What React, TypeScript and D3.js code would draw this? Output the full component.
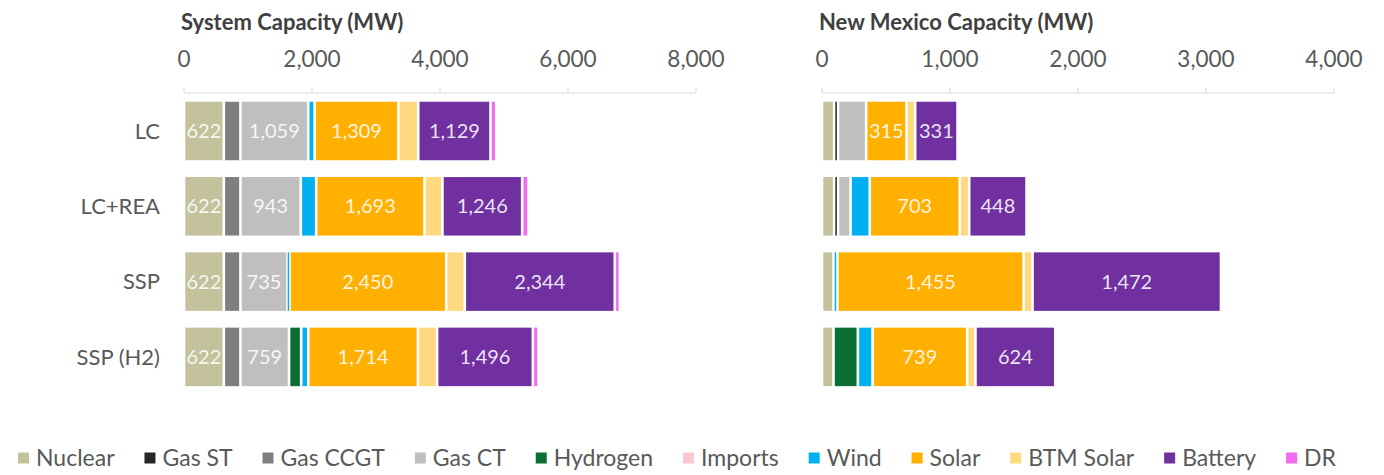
import React, { useEffect, useRef } from "react";
import * as d3 from "d3";

const categories = ["LC", "LC+REA", "SSP", "SSP (H2)"];
const seriesNames = ["Nuclear", "Gas ST", "Gas CCGT", "Gas CT", "Hydrogen", "Imports", "Wind", "Solar", "BTM Solar", "Battery", "DR"];
const seriesColors = ["#c4c29d", "#262626", "#7f7f7f", "#bfbfbf", "#0b6e35", "#ffc6d0", "#00b0f0", "#ffb000", "#ffd980", "#7030a0", "#f06cf0"];

// System capacity (MW), one value per scenario (category order)
const sysNuclear = [622, 622, 622, 622];
const sysGasST = [0, 0, 0, 0];
const sysGasCCGT = [260, 260, 260, 260];
const sysGasCT = [1059, 943, 735, 759];
const sysHydrogen = [0, 0, 0, 190];
const sysImports = [0, 0, 0, 0];
const sysWind = [100, 240, 30, 110];
const sysSolar = [1309, 1693, 2450, 1714];
const sysBTMSolar = [310, 280, 290, 300];
const sysBattery = [1129, 1246, 2344, 1496];
const sysDR = [90, 100, 80, 90];

// New Mexico capacity (MW)
const nmNuclear = [95, 95, 90, 90];
const nmGasST = [30, 30, 0, 0];
const nmGasCCGT = [0, 0, 0, 0];
const nmGasCT = [220, 98, 0, 0];
const nmHydrogen = [0, 0, 0, 190];
const nmImports = [0, 0, 0, 0];
const nmWind = [0, 150, 30, 115];
const nmSolar = [315, 703, 1455, 739];
const nmBTMSolar = [68, 74, 70, 65];
const nmBattery = [331, 448, 1472, 624];
const nmDR = [0, 0, 0, 0];

const sysTicks = [0, 2000, 4000, 6000, 8000];
const nmTicks = [0, 1000, 2000, 3000, 4000];

const sysLabelled = ["Nuclear", "Gas CT", "Solar", "Battery"];
const nmLabelled = ["Solar", "Battery"];

const sysSeries = [sysNuclear, sysGasST, sysGasCCGT, sysGasCT, sysHydrogen, sysImports, sysWind, sysSolar, sysBTMSolar, sysBattery, sysDR];
const nmSeries = [nmNuclear, nmGasST, nmGasCCGT, nmGasCT, nmHydrogen, nmImports, nmWind, nmSolar, nmBTMSolar, nmBattery, nmDR];

const FONT = "Lato, 'Open Sans', sans-serif";
const W = 1384;
const H = 475;

function buildRows(series: number[][]) {
  return categories.map((c, i) => {
    const row: any = { category: c };
    seriesNames.forEach((s, j) => (row[s] = series[j][i]));
    return row;
  });
}

export default function App() {
  const ref = useRef<SVGSVGElement | null>(null);

  useEffect(() => {
    document.body.style.margin = "0";
    const svg = d3.select(ref.current);
    svg.selectAll("*").remove();

    const y = d3.scaleBand<string>().domain(categories).range([94.2, 393.7]).paddingInner(0.223).paddingOuter(0.1);

    const color = d3.scaleOrdinal<string, string>().domain(seriesNames).range(seriesColors);
    const fmt = d3.format(",");

    const charts = [
      { title: "System Capacity (MW)", series: sysSeries, ticks: sysTicks, domain: [0, 8000], range: [184, 696], labelled: sysLabelled, cats: true },
      { title: "New Mexico Capacity (MW)", series: nmSeries, ticks: nmTicks, domain: [0, 4000], range: [822, 1334], labelled: nmLabelled, cats: false },
    ];

    charts.forEach((ch) => {
      const x = d3.scaleLinear().domain(ch.domain).range(ch.range);
      const g = svg.append("g");

      g.append("text")
        .attr("x", ch.range[0] - 3)
        .attr("y", 30)
        .attr("font-family", FONT)
        .attr("font-weight", 700)
        .attr("font-size", 22)
        .attr("fill", "#404040")
        .text(ch.title);

      // top axis
      const axisY = 93;
      g.append("line")
        .attr("x1", x(ch.domain[0]))
        .attr("x2", x(ch.domain[1]))
        .attr("y1", axisY)
        .attr("y2", axisY)
        .attr("stroke", "#d9d9d9")
        .attr("stroke-width", 1);
      g.selectAll(".tick")
        .data(ch.ticks)
        .join("line")
        .attr("x1", (d) => x(d))
        .attr("x2", (d) => x(d))
        .attr("y1", axisY - 5)
        .attr("y2", axisY)
        .attr("stroke", "#d9d9d9");
      g.selectAll(".ticklabel")
        .data(ch.ticks)
        .join("text")
        .attr("x", (d) => x(d))
        .attr("y", 67)
        .attr("text-anchor", "middle")
        .attr("font-family", FONT)
        .attr("font-size", 22.5)
        .attr("fill", "#595959")
        .text((d) => fmt(d));

      if (ch.cats) {
        g.selectAll(".cat")
          .data(categories)
          .join("text")
          .attr("x", 160)
          .attr("y", (d) => (y(d) as number) + y.bandwidth() / 2)
          .attr("dy", "0.35em")
          .attr("text-anchor", "end")
          .attr("font-family", FONT)
          .attr("font-size", 22)
          .attr("fill", "#595959")
          .text((d) => d);
      }

      const rows = buildRows(ch.series);
      const stacked = d3.stack<any>().keys(seriesNames)(rows);

      const layers = g.selectAll(".layer").data(stacked).join("g").attr("fill", (d) => color(d.key));
      layers
        .selectAll("rect")
        .data((d) => d.map((v) => ({ v, key: (d as any).key })))
        .join("rect")
        .filter((d) => d.v[1] - d.v[0] > 0)
        .attr("x", (d) => {
          const w = x(d.v[1]) - x(d.v[0]);
          const inset = Math.min(1.3, Math.max(0, (w - 1.5) / 2));
          return x(d.v[0]) + inset;
        })
        .attr("width", (d) => {
          const w = x(d.v[1]) - x(d.v[0]);
          const inset = Math.min(1.3, Math.max(0, (w - 1.5) / 2));
          return w - 2 * inset;
        })
        .attr("y", (d) => y(d.v.data.category) as number)
        .attr("height", y.bandwidth());

      stacked
        .filter((s) => ch.labelled.includes(s.key))
        .forEach((s) => {
          g.selectAll(null)
            .data(s.filter((v) => v[1] - v[0] > 0))
            .join("text")
            .attr("x", (v) => (x(v[0]) + x(v[1])) / 2)
            .attr("y", (v) => (y(v.data.category) as number) + y.bandwidth() / 2)
            .attr("dy", "0.35em")
            .attr("text-anchor", "middle")
            .attr("font-family", FONT)
            .attr("font-size", 20)
            .attr("fill", "#ffffff")
            .attr("fill-opacity", 0.88)
            .text((v) => fmt(v[1] - v[0]));
        });
    });

    // legend
    const lg = svg.append("g");
    const marker = 11;
    const textGap = 7;
    const items = seriesNames.map((name) => {
      const t = lg
        .append("text")
        .attr("font-family", FONT)
        .attr("font-size", 23)
        .attr("fill", "#595959")
        .attr("y", 458)
        .attr("dy", "0.35em")
        .text(name);
      const w = (t.node() as SVGTextElement).getComputedTextLength();
      return { name, t, w: marker + textGap + w };
    });
    const start = 18;
    const end = 1336;
    const total = d3.sum(items, (d) => d.w);
    const gap = (end - start - total) / (items.length - 1);
    let cx = start;
    items.forEach((it) => {
      lg.append("rect")
        .attr("x", cx)
        .attr("y", 458 - marker / 2)
        .attr("width", marker)
        .attr("height", marker)
        .attr("fill", color(it.name));
      it.t.attr("x", cx + marker + textGap);
      cx += it.w + gap;
    });
  }, []);

  return (
    <svg
      ref={ref}
      width={W}
      height={H}
      style={{ position: "absolute", left: 0, top: 0, background: "#ffffff" }}
    />
  );
}
